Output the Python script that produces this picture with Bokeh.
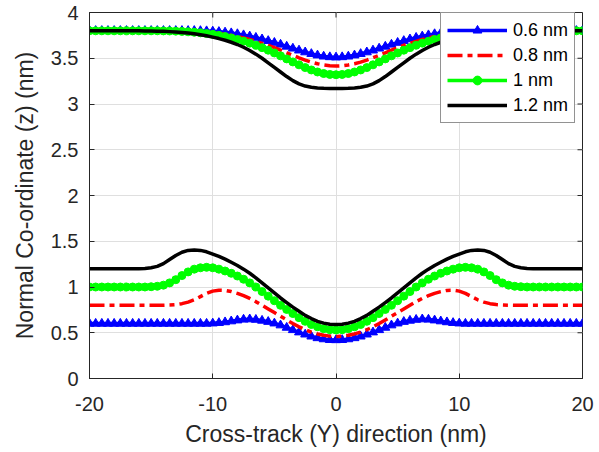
import numpy as np
from bokeh.plotting import figure
from bokeh.models import Range1d, FixedTicker, Legend, LegendItem
from bokeh.embed import file_html
from bokeh.resources import INLINE

# Cross-track positions (nm), sampled every 0.5 nm
x = np.arange(-20, 20.5, 0.5)

series_labels = ["0.6 nm", "0.8 nm", "1 nm", "1.2 nm"]

# ---- lower surfaces ----
low_06 = [
    0.6, 0.6, 0.6, 0.6, 0.6, 0.6, 0.6, 0.6, 0.6, 0.6,
    0.6, 0.6, 0.6, 0.6, 0.6, 0.6, 0.6, 0.6, 0.6, 0.6,
    0.603, 0.608, 0.616, 0.626, 0.636, 0.645, 0.648, 0.643, 0.633, 0.62,
    0.603, 0.582, 0.556, 0.53, 0.505, 0.482, 0.46, 0.442, 0.43, 0.422,
    0.42,
    0.422, 0.43, 0.442, 0.46, 0.482, 0.505, 0.53, 0.556, 0.582, 0.603,
    0.62, 0.633, 0.643, 0.648, 0.645, 0.636, 0.626, 0.616, 0.608, 0.603,
    0.6, 0.6, 0.6, 0.6, 0.6, 0.6, 0.6, 0.6, 0.6, 0.6,
    0.6, 0.6, 0.6, 0.6, 0.6, 0.6, 0.6, 0.6, 0.6, 0.6,
]
low_08 = [
    0.8, 0.8, 0.8, 0.8, 0.8, 0.8, 0.8, 0.8, 0.8, 0.8,
    0.8, 0.8, 0.801, 0.803, 0.808, 0.818, 0.835, 0.86, 0.895, 0.93,
    0.955, 0.965, 0.963, 0.95, 0.93, 0.905, 0.875, 0.84, 0.80, 0.76,
    0.72, 0.68, 0.64, 0.60, 0.565, 0.533, 0.507, 0.487, 0.472, 0.463,
    0.46,
    0.463, 0.472, 0.487, 0.507, 0.533, 0.565, 0.60, 0.64, 0.68, 0.72,
    0.76, 0.80, 0.84, 0.875, 0.905, 0.93, 0.95, 0.963, 0.965, 0.955,
    0.93, 0.895, 0.86, 0.835, 0.818, 0.808, 0.803, 0.801, 0.8, 0.8,
    0.8, 0.8, 0.8, 0.8, 0.8, 0.8, 0.8, 0.8, 0.8, 0.8,
]
low_10 = [
    1.0, 1.0, 1.0, 1.0, 1.0, 1.0, 1.0, 1.0, 1.0, 1.0,
    1.003, 1.008, 1.02, 1.045, 1.08, 1.125, 1.165, 1.195, 1.21, 1.215,
    1.21, 1.195, 1.175, 1.15, 1.12, 1.085, 1.045, 1.0, 0.95, 0.90,
    0.85, 0.80, 0.755, 0.71, 0.665, 0.625, 0.59, 0.565, 0.545, 0.533,
    0.53,
    0.533, 0.545, 0.565, 0.59, 0.625, 0.665, 0.71, 0.755, 0.80, 0.85,
    0.90, 0.95, 1.0, 1.045, 1.085, 1.12, 1.15, 1.175, 1.195, 1.21,
    1.215, 1.21, 1.195, 1.165, 1.125, 1.08, 1.045, 1.02, 1.008, 1.003,
    1.0, 1.0, 1.0, 1.0, 1.0, 1.0, 1.0, 1.0, 1.0, 1.0,
]
low_12 = [
    1.2, 1.2, 1.2, 1.2, 1.2, 1.2, 1.2, 1.2, 1.2, 1.203,
    1.21, 1.225, 1.255, 1.30, 1.345, 1.38, 1.40, 1.405, 1.40, 1.385,
    1.36, 1.335, 1.305, 1.27, 1.235, 1.195, 1.15, 1.10, 1.045, 0.99,
    0.935, 0.88, 0.83, 0.78, 0.735, 0.69, 0.655, 0.625, 0.605, 0.593,
    0.59,
    0.593, 0.605, 0.625, 0.655, 0.69, 0.735, 0.78, 0.83, 0.88, 0.935,
    0.99, 1.045, 1.10, 1.15, 1.195, 1.235, 1.27, 1.305, 1.335, 1.36,
    1.385, 1.40, 1.405, 1.40, 1.38, 1.345, 1.30, 1.255, 1.225, 1.21,
    1.203, 1.2, 1.2, 1.2, 1.2, 1.2, 1.2, 1.2, 1.2, 1.2,
]

# ---- upper surfaces ----
up_06 = [
    3.8, 3.8, 3.8, 3.8, 3.8, 3.8, 3.8, 3.8, 3.8, 3.8,
    3.8, 3.8, 3.8, 3.8, 3.8, 3.8, 3.8, 3.8, 3.799, 3.797,
    3.794, 3.789, 3.783, 3.775, 3.765, 3.753, 3.74, 3.725, 3.708, 3.69,
    3.67, 3.65, 3.628, 3.607, 3.586, 3.566, 3.548, 3.532, 3.52, 3.513,
    3.51,
    3.513, 3.52, 3.532, 3.548, 3.566, 3.586, 3.607, 3.628, 3.65, 3.67,
    3.69, 3.708, 3.725, 3.74, 3.753, 3.765, 3.775, 3.783, 3.789, 3.794,
    3.797, 3.799, 3.8, 3.8, 3.8, 3.8, 3.8, 3.8, 3.8, 3.8,
    3.8, 3.8, 3.8, 3.8, 3.8, 3.8, 3.8, 3.8, 3.8, 3.8,
]
up_08 = [
    3.8, 3.8, 3.8, 3.8, 3.8, 3.8, 3.8, 3.8, 3.8, 3.8,
    3.8, 3.8, 3.8, 3.8, 3.799, 3.798, 3.796, 3.793, 3.789, 3.784,
    3.778, 3.77, 3.761, 3.75, 3.737, 3.722, 3.705, 3.685, 3.663, 3.64,
    3.615, 3.588, 3.56, 3.532, 3.505, 3.48, 3.458, 3.44, 3.427, 3.418,
    3.415,
    3.418, 3.427, 3.44, 3.458, 3.48, 3.505, 3.532, 3.56, 3.588, 3.615,
    3.64, 3.663, 3.685, 3.705, 3.722, 3.737, 3.75, 3.761, 3.77, 3.778,
    3.784, 3.789, 3.793, 3.796, 3.798, 3.799, 3.8, 3.8, 3.8, 3.8,
    3.8, 3.8, 3.8, 3.8, 3.8, 3.8, 3.8, 3.8, 3.8, 3.8,
]
up_10 = [
    3.8, 3.8, 3.8, 3.8, 3.8, 3.8, 3.8, 3.8, 3.8, 3.8,
    3.8, 3.8, 3.799, 3.798, 3.796, 3.793, 3.789, 3.784, 3.778, 3.77,
    3.761, 3.75, 3.737, 3.722, 3.705, 3.686, 3.665, 3.642, 3.616, 3.588,
    3.558, 3.526, 3.493, 3.46, 3.428, 3.398, 3.372, 3.35, 3.333, 3.323,
    3.32,
    3.323, 3.333, 3.35, 3.372, 3.398, 3.428, 3.46, 3.493, 3.526, 3.558,
    3.588, 3.616, 3.642, 3.665, 3.686, 3.705, 3.722, 3.737, 3.75, 3.761,
    3.77, 3.778, 3.784, 3.789, 3.793, 3.796, 3.798, 3.799, 3.8, 3.8,
    3.8, 3.8, 3.8, 3.8, 3.8, 3.8, 3.8, 3.8, 3.8, 3.8,
]
up_12 = [
    3.8, 3.8, 3.8, 3.8, 3.8, 3.8, 3.8, 3.8, 3.8, 3.799,
    3.798, 3.796, 3.794, 3.791, 3.787, 3.782, 3.775, 3.767, 3.757, 3.745,
    3.731, 3.715, 3.697, 3.675, 3.65, 3.62, 3.585, 3.545, 3.50, 3.45,
    3.40, 3.35, 3.30, 3.255, 3.22, 3.196, 3.183, 3.176, 3.172, 3.17,
    3.17,
    3.17, 3.172, 3.176, 3.183, 3.196, 3.22, 3.255, 3.30, 3.35, 3.40,
    3.45, 3.50, 3.545, 3.585, 3.62, 3.65, 3.675, 3.697, 3.715, 3.731,
    3.745, 3.757, 3.767, 3.775, 3.782, 3.787, 3.791, 3.794, 3.796, 3.798,
    3.799, 3.8, 3.8, 3.8, 3.8, 3.8, 3.8, 3.8, 3.8, 3.8,
]

x_ticks = [-20, -10, 0, 10, 20]
x_tick_labels = ["-20", "-10", "0", "10", "20"]
y_ticks = [0, 0.5, 1, 1.5, 2, 2.5, 3, 3.5, 4]
y_tick_labels = ["0", "0.5", "1", "1.5", "2", "2.5", "3", "3.5", "4"]
x_lim = (-20, 20)
y_lim = (0, 4)

FONT = "Liberation Sans"
AX = "#262626"

p = figure(width=599, height=452, output_backend="svg", toolbar_location=None,
           x_range=Range1d(*x_lim), y_range=Range1d(*y_lim),
           min_border_left=89, min_border_right=17, min_border_top=12,
           min_border_bottom=74, background_fill_color="white",
           border_fill_color="white")
p.outline_line_color = AX
p.outline_line_width = 1

for ax in (p.xaxis[0], p.yaxis[0]):
    ax.axis_line_color = AX
    ax.major_tick_line_color = AX
    ax.major_tick_in = 5
    ax.major_tick_out = 0
    ax.minor_tick_line_color = None
    ax.major_label_text_font = FONT
    ax.major_label_text_font_size = "20px"
    ax.major_label_text_color = AX
    ax.axis_label_text_font = FONT
    ax.axis_label_text_font_size = "23px"
    ax.axis_label_text_font_style = "normal"
    ax.axis_label_text_color = AX

p.xaxis.ticker = FixedTicker(ticks=x_ticks)
p.xaxis.major_label_overrides = {t: l for t, l in zip(x_ticks, x_tick_labels)}
p.yaxis.ticker = FixedTicker(ticks=y_ticks)
p.yaxis.major_label_overrides = {float(t): l for t, l in zip(y_ticks, y_tick_labels)}
p.xaxis.axis_label = "Cross-track (Y) direction (nm)"
p.yaxis.axis_label = "Normal Co-ordinate (z) (nm)"
p.xaxis.major_label_standoff = 18
p.xaxis.axis_label_standoff = 7
p.yaxis.major_label_standoff = 11
p.yaxis.axis_label_standoff = 10

# inward tick marks on the top and right sides of the box
p.ray(x=x_ticks, y=[y_lim[1]] * len(x_ticks), length=5, length_units="screen",
      angle=-np.pi / 2, line_color=AX, line_width=1)
p.ray(x=[x_lim[1]] * len(y_ticks), y=y_ticks, length=5, length_units="screen",
      angle=np.pi, line_color=AX, line_width=1)

p.xgrid.grid_line_color = "#dfdfdf"
p.ygrid.grid_line_color = "#dfdfdf"

lw = 3.5
items = []

# 0.6 nm : blue, triangles
r1 = p.line(x, low_06, line_color="#0000ff", line_width=lw)
s1 = p.scatter(x, low_06, marker="triangle", size=9, fill_color="#0000ff", line_color="#0000ff")
p.line(x, up_06, line_color="#0000ff", line_width=lw)
p.scatter(x, up_06, marker="triangle", size=9, fill_color="#0000ff", line_color="#0000ff")
items.append(LegendItem(label=series_labels[0], renderers=[r1, s1]))

# 0.8 nm : red dash-dot
r2 = p.line(x, low_08, line_color="#ff0000", line_width=lw, line_dash="15 5 5 5")
p.line(x, up_08, line_color="#ff0000", line_width=lw, line_dash="15 5 5 5")
items.append(LegendItem(label=series_labels[1], renderers=[r2]))

# 1 nm : green circles
r3 = p.line(x, low_10, line_color="#00ff00", line_width=lw)
s3 = p.scatter(x, low_10, marker="circle", size=8, fill_color="#00ff00", line_color="#00ff00")
p.line(x, up_10, line_color="#00ff00", line_width=lw)
p.scatter(x, up_10, marker="circle", size=8, fill_color="#00ff00", line_color="#00ff00")
items.append(LegendItem(label=series_labels[2], renderers=[r3, s3]))

# 1.2 nm : black solid
r4 = p.line(x, low_12, line_color="#000000", line_width=lw)
p.line(x, up_12, line_color="#000000", line_width=lw)
items.append(LegendItem(label=series_labels[3], renderers=[r4]))

legend = Legend(items=items, location=(351, 255), margin=0, padding=6,
                spacing=3, glyph_width=60, glyph_height=22, label_standoff=6,
                label_text_font=FONT, label_text_font_size="18px",
                label_text_color="#000000", border_line_color=AX,
                border_line_width=1, background_fill_color="white",
                background_fill_alpha=1.0)
p.add_layout(legend)

open("out.html", "w").write(file_html(p, INLINE))
